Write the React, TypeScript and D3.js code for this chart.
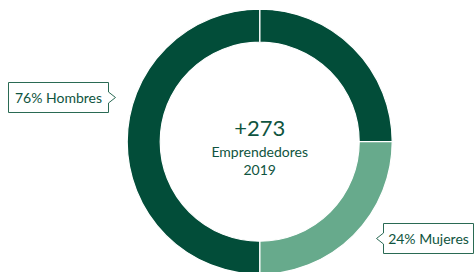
import React from 'react';
import * as d3 from 'd3';

// Ring segments (clockwise from 12 o'clock)
const segmentNames = ['Hombres A', 'Mujeres', 'Hombres B'];
const segmentValues = [25, 25, 50];
const segmentKinds = ['dark', 'light', 'dark'];

const centerLines = ['+273', 'Emprendedores', '2019'];
const calloutLabels = ['76% Hombres', '24% Mujeres'];

const W = 474;
const H = 272;
const cx = 259.7;
const cy = 141.7;
const outerR = 132.5;
const innerR = 99.5;

const colorOf = d3.scaleOrdinal<string, string>()
  .domain(['dark', 'light'])
  .range(['#024d39', '#67aa8c']);

const textColor = '#0f5440';
const font = 'Lato, "Open Sans", sans-serif';

// callout box with a chevron notch on one side
const calloutPath = (x: number, y: number, w: number, h: number, side: 'left' | 'right') => {
  const mid = y + h / 2;
  const half = 5.5;
  const out = 7;
  if (side === 'right') {
    return `M${x},${y}H${x + w}V${mid - half}L${x + w + out},${mid}L${x + w},${mid + half}V${y + h}H${x}Z`;
  }
  return `M${x},${y}H${x + w}V${y + h}H${x}V${mid + half}L${x - out},${mid}L${x},${mid - half}Z`;
};

const App: React.FC = () => {
  const pie = d3.pie<number>().sort(null).value(d => d);
  const arcs = pie(segmentValues);
  const arc = d3.arc<d3.PieArcDatum<number>>().innerRadius(innerR).outerRadius(outerR);

  return (
    <svg width={W} height={H} style={{ position: 'absolute', left: 0, top: 0, background: '#fff' }}>
      <g transform={`translate(${cx},${cy})`}>
        {arcs.map((a, i) => (
          <path key={segmentNames[i]} d={arc(a) || ''} fill={colorOf(segmentKinds[i])} stroke="#ffffff" strokeWidth={1.2} />
        ))}
        <text y={-5.5} textAnchor="middle" fontFamily={font} fontSize={22} fill={textColor}>{centerLines[0]}</text>
        <text y={15.5} textAnchor="middle" fontFamily={font} fontSize={14} fill={textColor}>{centerLines[1]}</text>
        <text y={33.5} textAnchor="middle" fontFamily={font} fontSize={14} fill={textColor}>{centerLines[2]}</text>
      </g>

      <path d={calloutPath(8.5, 82.5, 100, 30, 'right')} fill="#fff" stroke="#2a6a54" strokeWidth={1} />
      <text x={58.5} y={103} textAnchor="middle" fontFamily={font} fontSize={14} fill={textColor}>{calloutLabels[0]}</text>

      <path d={calloutPath(383.5, 223.5, 90, 30, 'left')} fill="#fff" stroke="#2a6a54" strokeWidth={1} />
      <text x={428.5} y={244} textAnchor="middle" fontFamily={font} fontSize={14} fill={textColor}>{calloutLabels[1]}</text>
    </svg>
  );
};

export default App;
